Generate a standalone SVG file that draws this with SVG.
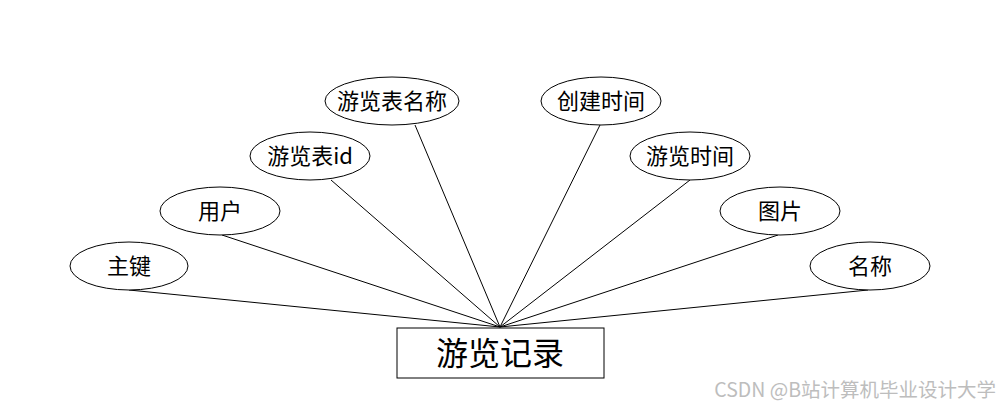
<svg xmlns="http://www.w3.org/2000/svg" width="1000" height="408" viewBox="0 0 1000 408">
<style>
.attr ellipse{fill:#fff;stroke:#000;stroke-width:1}
.lbl{font-family:"Noto Sans CJK SC","Noto Sans",sans-serif;font-size:22px;fill:#000;text-anchor:middle;dominant-baseline:central}
.edges line{stroke:#000;stroke-width:1}
</style>
<rect width="1000" height="408" fill="#fff"/>
<g class="edges">
<line x1="129" y1="290" x2="500" y2="327"/>
<line x1="222" y1="235" x2="500" y2="327"/>
<line x1="331" y1="180" x2="500" y2="327"/>
<line x1="415" y1="125" x2="500" y2="327"/>
<line x1="600" y1="125" x2="500" y2="327"/>
<line x1="690" y1="180" x2="500" y2="327"/>
<line x1="778" y1="235" x2="500" y2="327"/>
<line x1="868" y1="290" x2="500" y2="327"/>
</g>
<g id="entity">
<rect x="397" y="328" width="207" height="50" fill="#fff" stroke="#000" stroke-width="1"/>
<text class="lbl" x="500" y="351" style="font-size:32px">游览记录</text>
</g>
<g id="a1" class="attr"><ellipse cx="129" cy="266" rx="59" ry="24"/><text class="lbl" x="129" y="264">主键</text></g>
<g id="a2" class="attr"><ellipse cx="220" cy="211" rx="60" ry="24"/><text class="lbl" x="220" y="209">用户</text></g>
<g id="a3" class="attr"><ellipse cx="310" cy="156" rx="60" ry="24"/><text class="lbl" x="310" y="154">游览表id</text></g>
<g id="a4" class="attr"><ellipse cx="392" cy="101" rx="67" ry="24"/><text class="lbl" x="392" y="99">游览表名称</text></g>
<g id="a5" class="attr"><ellipse cx="601" cy="101" rx="60" ry="24"/><text class="lbl" x="601" y="99">创建时间</text></g>
<g id="a6" class="attr"><ellipse cx="690" cy="156" rx="60" ry="24"/><text class="lbl" x="690" y="154">游览时间</text></g>
<g id="a7" class="attr"><ellipse cx="780" cy="211" rx="60" ry="24"/><text class="lbl" x="780" y="209">图片</text></g>
<g id="a8" class="attr"><ellipse cx="870" cy="266" rx="60" ry="24"/><text class="lbl" x="870" y="264">名称</text></g>
<text x="996" y="397" style="font-family:'Noto Sans CJK SC','Noto Sans',sans-serif;font-size:19.5px;fill:#bdbdbd;text-anchor:end">CSDN @B站计算机毕业设计大学</text>
</svg>
